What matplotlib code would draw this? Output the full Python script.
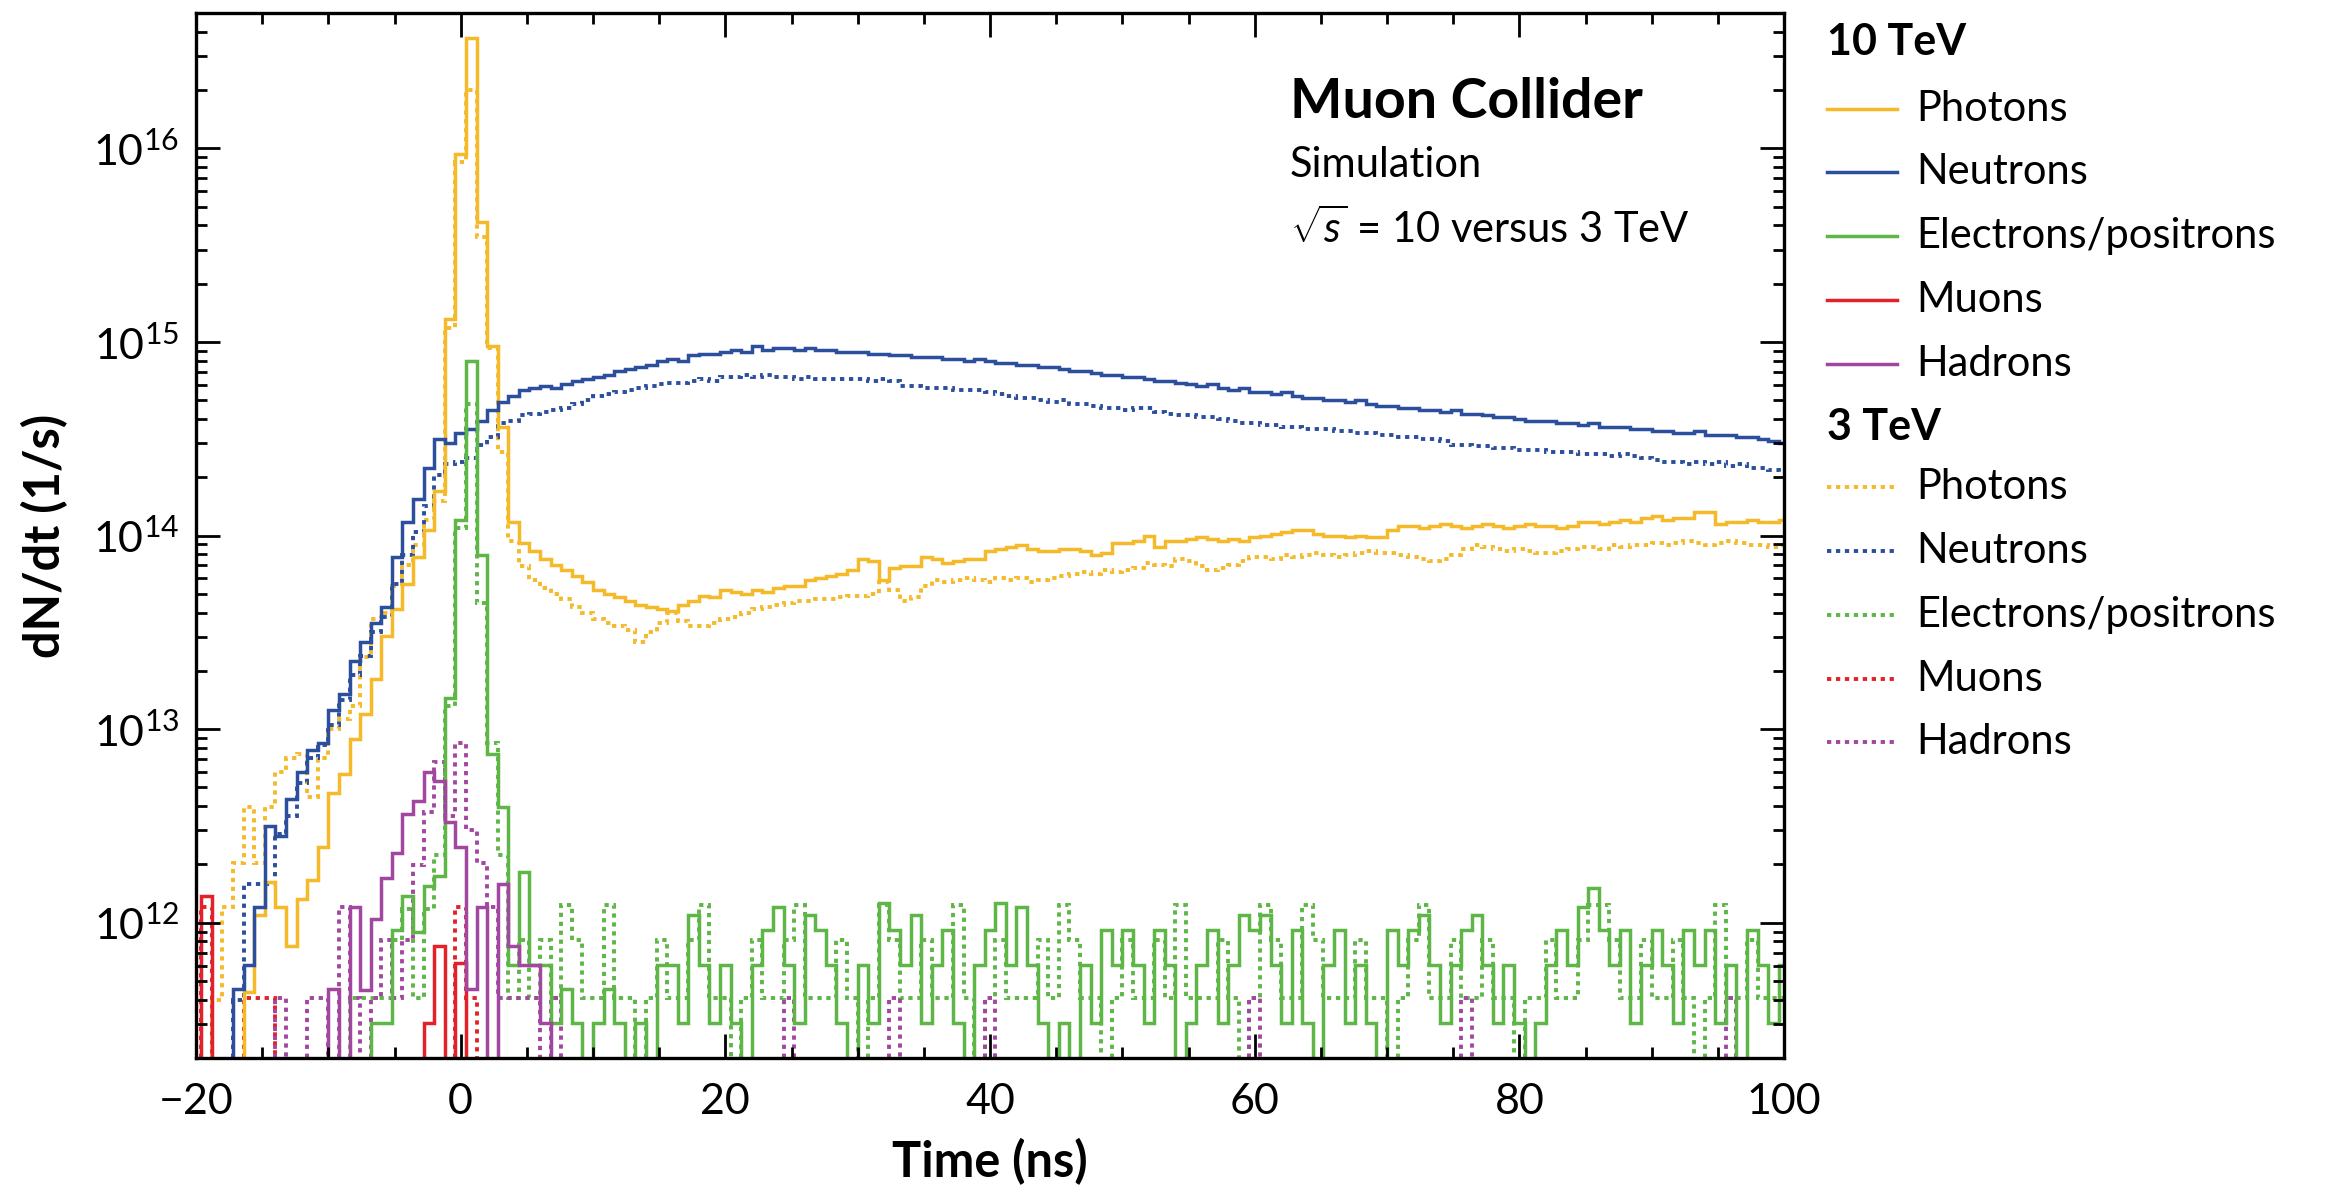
import numpy as np
import matplotlib
matplotlib.use("Agg")
import matplotlib.pyplot as plt
from matplotlib.lines import Line2D
from matplotlib.ticker import LogLocator, MultipleLocator, NullFormatter

plt.rcParams['font.family'] = ['Lato', 'DejaVu Sans']
plt.rcParams['mathtext.fontset'] = 'custom'
plt.rcParams['mathtext.rm'] = 'Lato'
plt.rcParams['mathtext.it'] = 'Lato:italic'
plt.rcParams['mathtext.bf'] = 'Lato:bold'

# ---- binning: 151 bins of 0.8 ns, bin k centred at -20 + 0.8 k ----
bin_edges = np.round(-20.4 + 0.8 * np.arange(152), 2)

# values are log10(dN/dt [1/s]); 0 means an empty bin
photons_10 = [0, 0, 0, 0, 0, 11.64, 12.04, 12.21, 12.08, 11.88,
              12.12, 12.22, 12.39, 12.67, 12.77, 12.95, 13.08, 13.26, 13.48, 13.62,
              13.75, 13.89, 14.03, 14.23, 15.12, 15.97, 16.57, 15.62, 14.98, 14.56,
              14.07, 13.96, 13.92, 13.88, 13.85, 13.82, 13.79, 13.76, 13.72, 13.70,
              13.68, 13.66, 13.64, 13.63, 13.62, 13.61, 13.64, 13.66, 13.69, 13.68,
              13.72, 13.71, 13.70, 13.72, 13.71, 13.73, 13.74, 13.74, 13.77, 13.78,
              13.79, 13.80, 13.82, 13.88, 13.87, 13.77, 13.83, 13.84, 13.84, 13.89,
              13.88, 13.86, 13.87, 13.88, 13.88, 13.92, 13.93, 13.94, 13.95, 13.93,
              13.92, 13.92, 13.93, 13.93, 13.92, 13.90, 13.91, 13.96, 13.96, 13.97,
              14.00, 13.94, 13.97, 13.97, 13.98, 13.99, 13.98, 13.97, 13.98, 13.97,
              13.99, 14.00, 14.01, 14.02, 14.03, 14.03, 14.01, 14.00, 14.00, 13.99,
              14.00, 13.99, 13.99, 14.03, 14.05, 14.05, 14.04, 14.05, 14.06, 14.05,
              14.04, 14.05, 14.06, 14.05, 14.04, 14.05, 14.06, 14.05, 14.05, 14.04,
              14.05, 14.07, 14.07, 14.06, 14.07, 14.08, 14.07, 14.09, 14.10, 14.08,
              14.09, 14.09, 14.12, 14.12, 14.06, 14.07, 14.07, 14.08, 14.07, 14.07,
              14.08]

neutrons_10 = [0, 0, 0, 0, 11.66, 11.78, 12.08, 12.50, 12.45, 12.64,
               12.78, 12.89, 12.93, 13.10, 13.18, 13.35, 13.45, 13.55, 13.63, 13.89,
               14.07, 14.19, 14.35, 14.50, 14.48, 14.53, 14.55, 14.59, 14.65, 14.69,
               14.72, 14.75, 14.76, 14.77, 14.76, 14.78, 14.80, 14.81, 14.82, 14.83,
               14.85, 14.86, 14.87, 14.88, 14.90, 14.91, 14.90, 14.93, 14.94, 14.94,
               14.95, 14.96, 14.95, 14.98, 14.96, 14.97, 14.97, 14.96, 14.97, 14.96,
               14.96, 14.95, 14.95, 14.95, 14.94, 14.94, 14.93, 14.93, 14.92, 14.92,
               14.92, 14.91, 14.91, 14.90, 14.91, 14.90, 14.89, 14.89, 14.88, 14.88,
               14.87, 14.87, 14.86, 14.85, 14.85, 14.84, 14.83, 14.83, 14.82, 14.82,
               14.81, 14.80, 14.80, 14.79, 14.78, 14.77, 14.78, 14.76, 14.75, 14.76,
               14.74, 14.74, 14.73, 14.74, 14.72, 14.71, 14.71, 14.70, 14.70, 14.69,
               14.70, 14.68, 14.67, 14.67, 14.66, 14.66, 14.65, 14.65, 14.64, 14.65,
               14.63, 14.63, 14.62, 14.61, 14.61, 14.60, 14.59, 14.59, 14.59, 14.58,
               14.58, 14.57, 14.58, 14.56, 14.56, 14.56, 14.55, 14.55, 14.54, 14.54,
               14.53, 14.53, 14.54, 14.52, 14.52, 14.52, 14.51, 14.51, 14.50, 14.49,
               14.48]

electrons_10 = [0, 0, 0, 0, 0, 0, 0, 0, 0, 0,
                0, 0, 0, 0, 0, 0, 0, 11.48, 11.48, 11.96,
                12.14, 11.95, 12.19, 12.24, 13.16, 14.08, 14.90, 13.90, 12.87, 12.60,
                11.78, 12.26, 11.78, 11.78, 11.48, 11.66, 11.48, 0, 11.48, 11.66,
                11.48, 0, 11.48, 0, 11.78, 11.78, 11.48, 12.04, 11.78, 11.48,
                11.78, 11.48, 0, 11.78, 11.96, 12.08, 11.78, 11.48, 12.04, 11.96,
                11.78, 11.48, 0, 11.78, 11.48, 12.10, 11.96, 11.78, 12.04, 11.48,
                11.78, 11.96, 11.48, 0, 11.78, 11.96, 12.10, 11.78, 12.08, 11.78,
                11.48, 0, 11.48, 0, 11.78, 11.48, 11.96, 11.78, 11.96, 11.78,
                11.48, 11.96, 11.78, 0, 11.48, 11.78, 11.96, 11.48, 11.78, 12.04,
                11.96, 12.04, 11.78, 11.48, 11.96, 11.48, 0, 11.78, 11.96, 11.48,
                11.78, 11.48, 0, 11.96, 11.78, 11.96, 12.04, 11.78, 11.48, 11.78,
                11.96, 12.04, 11.78, 11.48, 11.78, 11.48, 0, 11.48, 11.78, 11.96,
                11.78, 12.08, 12.18, 11.96, 11.78, 11.96, 11.48, 11.78, 11.96, 11.78,
                11.48, 11.96, 11.78, 11.96, 11.48, 11.78, 0, 11.96, 11.78, 11.48,
                11.78]

muons_10 = [0, 12.14, 0, 0, 0, 0, 0, 0, 0, 0,
            0, 0, 0, 0, 0, 0, 0, 0, 0, 0,
            0, 0, 11.48, 11.88, 0, 11.79] + [0] * 125

hadrons_10 = [0, 0, 0, 0, 0, 0, 0, 0, 0, 0,
              0, 0, 0, 11.66, 0, 12.08, 11.65, 12.02, 12.23, 12.36,
              12.56, 12.63, 12.78, 12.73, 12.52, 12.39, 11.66, 12.08, 0, 12.20,
              11.88, 11.78, 11.78, 11.48] + [0] * 117

photons_3 = [0, 0, 11.60, 12.08, 12.31, 12.60, 12.31, 12.60, 12.78, 12.85,
             12.87, 12.65, 12.85, 13.00, 13.05, 13.12, 13.37, 13.57, 13.60, 13.74,
             13.85, 13.95, 14.08, 14.18, 15.07, 15.93, 16.30, 15.54, 14.97, 14.43,
             13.97, 13.84, 13.77, 13.73, 13.70, 13.67, 13.63, 13.60, 13.57, 13.55,
             13.53, 13.51, 13.45, 13.50, 13.55, 13.60, 13.56, 13.53, 13.53, 13.55,
             13.57, 13.58, 13.60, 13.62, 13.63, 13.64, 13.65, 13.66, 13.66, 13.67,
             13.67, 13.68, 13.69, 13.69, 13.70, 13.76, 13.72, 13.66, 13.68, 13.74,
             13.77, 13.76, 13.77, 13.78, 13.77, 13.76, 13.78, 13.77, 13.78, 13.76,
             13.77, 13.78, 13.79, 13.80, 13.81, 13.80, 13.82, 13.81, 13.82, 13.83,
             13.86, 13.85, 13.84, 13.88, 13.87, 13.84, 13.82, 13.83, 13.85, 13.87,
             13.89, 13.89, 13.88, 13.90, 13.89, 13.90, 13.91, 13.90, 13.89, 13.90,
             13.91, 13.92, 13.91, 13.91, 13.90, 13.89, 13.88, 13.87, 13.88, 13.90,
             13.93, 13.95, 13.94, 13.93, 13.92, 13.93, 13.92, 13.91, 13.91, 13.92,
             13.93, 13.94, 13.94, 13.93, 13.95, 13.94, 13.95, 13.95, 13.96, 13.95,
             13.96, 13.97, 13.96, 13.95, 13.96, 13.97, 13.96, 13.95, 13.95, 13.94,
             13.95]

neutrons_3 = [0, 0, 0, 0, 11.60, 12.20, 12.20, 12.20, 12.46, 12.55,
              12.72, 12.85, 12.92, 13.02, 13.15, 13.28, 13.38, 13.50, 13.58, 13.75,
              13.90, 14.02, 14.15, 14.31, 14.37, 14.38, 14.40, 14.47, 14.51, 14.58,
              14.59, 14.62, 14.63, 14.64, 14.65, 14.66, 14.68, 14.70, 14.72, 14.73,
              14.74, 14.75, 14.76, 14.77, 14.78, 14.79, 14.79, 14.80, 14.81, 14.80,
              14.82, 14.82, 14.83, 14.82, 14.83, 14.82, 14.82, 14.81, 14.82, 14.81,
              14.81, 14.81, 14.81, 14.81, 14.80, 14.81, 14.80, 14.77, 14.77, 14.76,
              14.76, 14.76, 14.75, 14.75, 14.75, 14.74, 14.73, 14.72, 14.71, 14.71,
              14.70, 14.69, 14.70, 14.68, 14.68, 14.67, 14.66, 14.66, 14.65, 14.66,
              14.66, 14.64, 14.63, 14.62, 14.62, 14.61, 14.61, 14.60, 14.59, 14.58,
              14.58, 14.57, 14.57, 14.56, 14.56, 14.55, 14.55, 14.55, 14.54, 14.54,
              14.53, 14.53, 14.52, 14.52, 14.51, 14.51, 14.50, 14.50, 14.49, 14.47,
              14.47, 14.46, 14.46, 14.45, 14.45, 14.44, 14.44, 14.44, 14.43, 14.43,
              14.43, 14.42, 14.42, 14.42, 14.41, 14.42, 14.41, 14.40, 14.39, 14.38,
              14.38, 14.37, 14.38, 14.37, 14.38, 14.36, 14.37, 14.35, 14.35, 14.34,
              14.33]

electrons_3 = [0, 0, 0, 0, 0, 0, 0, 0, 0, 0,
               0, 0, 0, 0, 0, 11.61, 11.61, 11.61, 11.61, 11.91,
               12.07, 11.61, 12.07, 12.35, 13.12, 14.04, 14.68, 13.65, 12.93, 12.35,
               11.61, 11.91, 11.61, 11.91, 11.61, 12.09, 11.91, 11.61, 11.61, 12.09,
               11.61, 11.61, 0, 11.61, 11.91, 11.61, 11.61, 11.91, 12.09, 11.61,
               11.61, 0, 11.61, 11.91, 11.61, 11.61, 11.91, 12.09, 11.61, 11.61,
               11.61, 11.91, 11.61, 0, 11.61, 12.09, 11.91, 11.61, 11.61, 11.91,
               11.61, 11.61, 12.09, 11.61, 0, 11.61, 11.91, 11.61, 11.61, 11.61,
               11.91, 11.61, 12.09, 11.91, 11.61, 11.61, 0, 11.61, 11.91, 11.61,
               11.61, 11.91, 11.61, 12.09, 11.61, 11.61, 11.61, 11.91, 11.61, 0,
               11.61, 12.09, 11.91, 11.61, 11.61, 12.09, 11.91, 11.61, 11.61, 11.61,
               11.91, 11.61, 11.61, 0, 11.61, 11.91, 12.09, 11.61, 11.61, 11.91,
               11.61, 11.61, 11.91, 11.61, 11.61, 0, 11.61, 11.61, 11.91, 11.61,
               11.61, 11.91, 12.09, 12.09, 11.91, 11.61, 11.61, 11.91, 11.61, 11.61,
               11.91, 11.61, 0, 11.61, 12.09, 11.61, 11.61, 11.91, 11.61, 11.61,
               11.61]

muons_3 = [0, 12.08, 0, 0, 0, 11.61, 11.61, 11.61, 0, 0,
           0, 0, 0, 0, 0, 0, 0, 0, 0, 0,
           0, 0, 0, 0, 0, 12.08, 11.61] + [0] * 124

hadrons_3 = [0, 0, 0, 0, 0, 0, 0, 0, 11.61, 0,
             0, 11.61, 11.61, 0, 12.08, 11.61, 0, 11.61, 11.91, 11.61,
             11.91, 12.30, 12.57, 12.83, 12.55, 12.93, 12.48, 12.31, 12.08, 11.61,
             11.61, 11.61, 11.61, 0, 11.61] + [0] * 116
hadrons_3[56] = 11.61
hadrons_3[66] = 11.61
hadrons_3[75] = 11.61
hadrons_3[100] = 11.61
hadrons_3[120] = 11.61
hadrons_3[145] = 11.61

species = ["Photons", "Neutrons", "Electrons/positrons", "Muons", "Hadrons"]
colors = ["#F5BA2A", "#2B4E9D", "#5DB646", "#E2222A", "#A2479F"]
series_10 = [photons_10, neutrons_10, electrons_10, muons_10, hadrons_10]
series_3 = [photons_3, neutrons_3, electrons_3, muons_3, hadrons_3]


def to_rate(logvals):
    a = np.asarray(logvals, dtype=float)
    return np.where(a > 0, 10.0 ** a, 1e5)


fig = plt.figure(figsize=(23.43, 12), dpi=100)
ax = fig.add_axes([196 / 2343, 1 - 1058 / 1200, (1784 - 196) / 2343, (1058 - 13) / 1200])

lw = 2.5
lw_dot = 2.8
dot = (0, (1.1, 1.2))
for vals, c in zip(series_3, colors):
    ax.stairs(to_rate(vals), bin_edges, baseline=None, color=c, lw=lw_dot, linestyle=dot)
for vals, c in zip(series_10, colors):
    ax.stairs(to_rate(vals), bin_edges, baseline=None, color=c, lw=lw)

ax.set_yscale("log")
ax.set_xlim(-20, 100)
ax.set_ylim(2.0e11, 5.0e16)

ax.xaxis.set_major_locator(MultipleLocator(20))
ax.xaxis.set_minor_locator(MultipleLocator(5))
ax.yaxis.set_major_locator(LogLocator(base=10, numticks=20))
ax.yaxis.set_minor_locator(LogLocator(base=10, subs=np.arange(2, 10), numticks=50))
ax.yaxis.set_minor_formatter(NullFormatter())

ax.tick_params(which="both", direction="in", top=True, right=True, width=2.0)
ax.tick_params(which="major", length=17, labelsize=31, pad=12)
ax.tick_params(which="minor", length=8)
ax.tick_params(axis="x", which="major", pad=18)
for s in ax.spines.values():
    s.set_linewidth(2.4)

ax.set_xlabel("Time (ns)", fontsize=35, fontweight="bold", labelpad=12)
ax.set_ylabel("dN/dt (1/s)", fontsize=35, fontweight="bold", labelpad=18)

# in-plot label
ax.text(1290 / 2343, 1 - 118 / 1200, "Muon Collider", transform=fig.transFigure,
        fontsize=40, fontweight="bold", va="baseline", ha="left")
ax.text(1290 / 2343, 1 - 177 / 1200, "Simulation", transform=fig.transFigure,
        fontsize=30, va="baseline", ha="left")
ax.text(1290 / 2343, 1 - 243 / 1200, r"$\sqrt{s}$ = 10 versus 3 TeV", transform=fig.transFigure,
        fontsize=30, va="baseline", ha="left")

# legend, outside right
x_line0, x_line1, x_text = 1827 / 2343, 1897 / 2343, 1916 / 2343
fig.text(x_line0, 1 - 42 / 1200, "10 TeV", fontsize=31, fontweight="bold", va="center", ha="left")
fig.text(x_line0, 1 - 427 / 1200, "3 TeV", fontsize=31, fontweight="bold", va="center", ha="left")
ys_10 = [109, 172, 236, 300, 364]
ys_3 = [487, 551, 615, 679, 742]
for name, c, y in zip(species, colors, ys_10):
    fig.add_artist(Line2D([x_line0, x_line1], [1 - y / 1200] * 2, transform=fig.transFigure,
                          color=c, lw=lw))
    fig.text(x_text, 1 - y / 1200, name, fontsize=30, va="center", ha="left")
for name, c, y in zip(species, colors, ys_3):
    fig.add_artist(Line2D([x_line0, x_line1], [1 - y / 1200] * 2, transform=fig.transFigure,
                          color=c, lw=lw_dot, linestyle=dot))
    fig.text(x_text, 1 - y / 1200, name, fontsize=30, va="center", ha="left")

fig.savefig("out.png", dpi=100)
